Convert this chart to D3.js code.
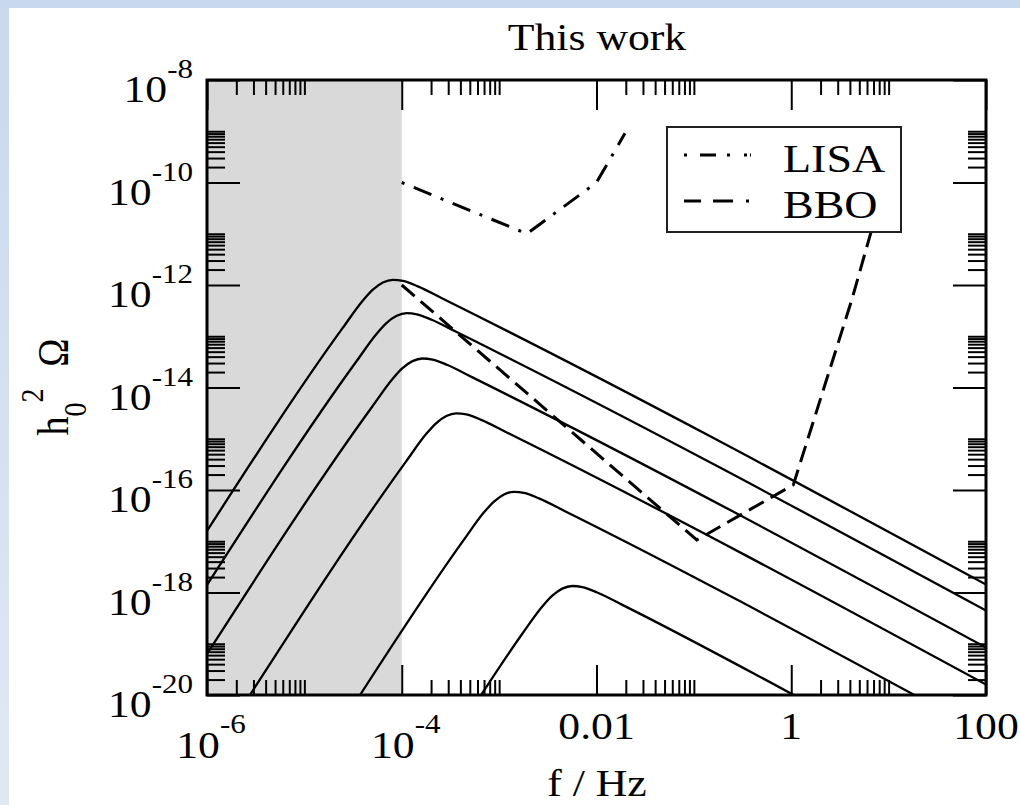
<!DOCTYPE html>
<html>
<head>
<meta charset="utf-8">
<script src="https://cdn.jsdelivr.net/npm/d3@7"></script>
<style>
html, body { margin: 0; padding: 0; background: #fff; }
svg { display: block; font-family: "Liberation Serif", "Times New Roman", Times, serif; }
</style>
</head>
<body>
<div id="chart"></div>
<script>
// spectra: [f in Hz, h0^2 Omega], denser round the peak
var curve1 = [[1e-6, 1.59e-17], [2.487e-5, 1.470e-13], [3.990e-5, 4.998e-13], [5.054e-5, 8.125e-13], [6.404e-5, 1.118e-12],
    [8.113e-5, 1.258e-12], [1.027e-4, 1.199e-12], [1.465e-4, 9.385e-13], [2.646e-4, 5.386e-13], [100, 1.43e-18]];
var curve2 = [[1e-6, 1.404e-18], [3.445e-5, 3.291e-14], [5.528e-5, 1.119e-13], [7.003e-5, 1.820e-13], [8.874e-5, 2.502e-13],
    [1.124e-4, 2.818e-13], [1.424e-4, 2.685e-13], [2.030e-4, 2.101e-13], [3.666e-4, 1.206e-13], [100, 4.442e-19]];
var curve3 = [[1e-6, 6.324e-20], [5.007e-5, 4.299e-15], [8.035e-5, 1.463e-14], [1.018e-4, 2.377e-14], [1.289e-4, 3.270e-14],
    [1.633e-4, 3.681e-14], [2.069e-4, 3.509e-14], [2.950e-4, 2.746e-14], [5.327e-4, 1.576e-14], [100, 8.433e-20]];
var curve4 = [[2.763e-6, 1e-20], [1.114e-4, 3.665e-16], [1.787e-4, 1.247e-15], [2.264e-4, 2.027e-15], [2.868e-4, 2.788e-15],
    [3.633e-4, 3.139e-15], [4.601e-4, 2.991e-15], [6.561e-4, 2.341e-15], [1.185e-3, 1.344e-15], [100, 1.599e-20]];
var curve5 = [[3.727e-5, 1e-20], [4.358e-4, 1.078e-17], [6.993e-4, 3.665e-17], [8.858e-4, 5.959e-17], [1.122e-3, 8.196e-17],
    [1.422e-3, 9.226e-17], [1.801e-3, 8.793e-17], [2.567e-3, 6.880e-17], [4.638e-3, 3.950e-17], [18.39, 1e-20]];
var curve6 = [[6.531e-4, 1e-20], [1.730e-3, 1.565e-19], [2.776e-3, 5.322e-19], [3.516e-3, 8.652e-19], [4.455e-3, 1.190e-18],
    [5.643e-3, 1.340e-18], [7.149e-3, 1.277e-18], [1.019e-2, 9.993e-19], [1.841e-2, 5.737e-19], [1.060, 1e-20]];
var spectra = [curve1, curve2, curve3, curve4, curve5, curve6];

// detector sensitivity curves
var lisa = [[1e-4, 1e-10], [1.93e-3, 1e-11], [1e-2, 1e-10], [1.96e-2, 9.1e-10]];
var bbo = [[1e-4, 1e-12], [0.107, 1.06e-17], [1.05, 1.26e-16], [4.18, 5.1e-13], [6.18, 7.0e-12], [9.4, 1.1e-10]];
var legendNames = ["LISA", "BBO"];

var shade = [1e-6, 1e-4];

var xMajor = [1e-6, 1e-4, 1e-2, 1, 100];
var xLabels = ["10^-6", "10^-4", "0.01", "1", "100"];
var yMajor = [1e-20, 1e-18, 1e-16, 1e-14, 1e-12, 1e-10, 1e-8];
var yLabels = ["10^-20", "10^-18", "10^-16", "10^-14", "10^-12", "10^-10", "10^-8"];

var width = 1020, height = 805;
var plot = {left: 207, right: 986, top: 80, bottom: 695};
var sx = 1.15; // the original picture is stretched sideways

var xScale = d3.scaleLog().domain([1e-6, 1e2]).range([plot.left, plot.right]);
var yScale = d3.scaleLog().domain([1e-20, 1e-8]).range([plot.bottom, plot.top]);

// minor ticks sit at 2..10 x each labelled tick
function minors(majors) {
    var out = [];
    majors.slice(0, -1).forEach(function (m) {
        for (var k = 2; k <= 10; k++) out.push(m * k);
    });
    return out;
}

var svg = d3.select("#chart").append("svg")
    .attr("width", width)
    .attr("height", height);

var defs = svg.append("defs");
var grad = defs.append("linearGradient").attr("id", "bg")
    .attr("x1", 0).attr("y1", 0).attr("x2", 0).attr("y2", 1);
grad.append("stop").attr("offset", "0%").attr("stop-color", "#c8d9ee");
grad.append("stop").attr("offset", "100%").attr("stop-color", "#e0e8f4");

defs.append("clipPath").attr("id", "clip").append("rect")
    .attr("x", plot.left).attr("y", plot.top)
    .attr("width", plot.right - plot.left)
    .attr("height", plot.bottom - plot.top);

svg.append("rect").attr("width", width).attr("height", height).attr("fill", "url(#bg)");
svg.append("rect").attr("x", 9).attr("y", 8)
    .attr("width", width - 9).attr("height", height - 8)
    .attr("fill", "#fff");

// grey band
svg.append("rect")
    .attr("x", xScale(shade[0]))
    .attr("y", plot.top)
    .attr("width", xScale(shade[1]) - xScale(shade[0]))
    .attr("height", plot.bottom - plot.top)
    .attr("fill", "#d9d9d9");

var line = d3.line()
    .x(function (d) { return xScale(d[0]); })
    .y(function (d) { return yScale(d[1]); });

var curves = svg.append("g").attr("clip-path", "url(#clip)");

curves.selectAll(".spectrum")
    .data(spectra)
    .enter().append("path")
    .attr("class", "spectrum")
    .attr("d", line.curve(d3.curveMonotoneX))
    .attr("fill", "none")
    .attr("stroke", "#000")
    .attr("stroke-width", 2.3);

line.curve(d3.curveLinear);

curves.append("path")
    .datum(bbo)
    .attr("d", line)
    .attr("fill", "none")
    .attr("stroke", "#000")
    .attr("stroke-width", 3)
    .attr("stroke-dasharray", "17,8");

curves.append("path")
    .datum(lisa)
    .attr("d", line)
    .attr("fill", "none")
    .attr("stroke", "#000")
    .attr("stroke-width", 3)
    .attr("stroke-dasharray", "3,10,19,10");

// ticks on all four sides, pointing inwards
function ticks(axis, values, size, transform) {
    svg.append("g")
        .attr("transform", transform)
        .call(axis.tickValues(values).tickSize(size).tickFormat(""))
        .call(function (g) { g.select(".domain").remove(); })
        .selectAll("line")
        .attr("stroke", "#000")
        .attr("stroke-width", 2);
}

ticks(d3.axisBottom(xScale), xMajor, -30, "translate(0," + plot.bottom + ")");
ticks(d3.axisBottom(xScale), minors(xMajor), -15, "translate(0," + plot.bottom + ")");
ticks(d3.axisTop(xScale), xMajor, -30, "translate(0," + plot.top + ")");
ticks(d3.axisTop(xScale), minors(xMajor), -15, "translate(0," + plot.top + ")");
ticks(d3.axisLeft(yScale), yMajor, -33, "translate(" + plot.left + ",0)");
ticks(d3.axisLeft(yScale), minors(yMajor), -18, "translate(" + plot.left + ",0)");
ticks(d3.axisRight(yScale), yMajor, -33, "translate(" + plot.right + ",0)");
ticks(d3.axisRight(yScale), minors(yMajor), -18, "translate(" + plot.right + ",0)");

svg.append("rect")
    .attr("x", plot.left).attr("y", plot.top)
    .attr("width", plot.right - plot.left)
    .attr("height", plot.bottom - plot.top)
    .attr("fill", "none")
    .attr("stroke", "#000")
    .attr("stroke-width", 3);

// text helpers
function stretchedText(x, y, size) {
    return svg.append("text")
        .attr("transform", "translate(" + x + "," + y + ") scale(" + sx + ",1)")
        .attr("font-size", size)
        .attr("fill", "#000");
}

function powerLabel(text, label, expSize, rise) {
    var parts = label.split("^");
    text.append("tspan").text(parts[0]);
    if (parts.length > 1) {
        text.append("tspan").attr("font-size", expSize).attr("dy", -rise).text(parts[1]);
    }
}

xMajor.forEach(function (v, i) {
    var lab = xLabels[i];
    var hasExp = lab.indexOf("^") >= 0;
    var t = stretchedText(xScale(v) + (hasExp ? 4 : 0), hasExp ? 758 : 739, 38)
        .attr("text-anchor", "middle");
    powerLabel(t, lab, 27, 25);
});

yMajor.forEach(function (v, i) {
    var t = stretchedText(193, yScale(v) + 22, 38).attr("text-anchor", "end");
    powerLabel(t, yLabels[i], 27, 24);
});

stretchedText(597, 50, 38).attr("text-anchor", "middle").text("This work");
stretchedText(597, 796, 38).attr("text-anchor", "middle").text("f / Hz");

// y title, rotated
var yt = svg.append("text")
    .attr("transform", "translate(68,387) scale(" + sx + ",1) rotate(-90)")
    .attr("font-size", 38)
    .attr("text-anchor", "middle")
    .attr("fill", "#000");
yt.append("tspan").text("h");
yt.append("tspan").attr("font-size", 28).attr("dy", 16).text("0");
yt.append("tspan").attr("font-size", 28).attr("dy", -38).text("2");
yt.append("tspan").attr("dy", 22).attr("dx", 22).text("\u03A9");

// legend
var legend = svg.append("g");
legend.append("rect")
    .attr("x", 667).attr("y", 127)
    .attr("width", 234).attr("height", 105)
    .attr("fill", "#fff")
    .attr("stroke", "#222")
    .attr("stroke-width", 2);

var legendDash = ["3,13,16,11,3,14,3", "17,12,20,13,3"];
legendNames.forEach(function (name, i) {
    var yy = 155 + i * 46;
    legend.append("line")
        .attr("x1", 684).attr("x2", 751)
        .attr("y1", yy).attr("y2", yy)
        .attr("stroke", "#000")
        .attr("stroke-width", 3)
        .attr("stroke-dasharray", legendDash[i]);
    stretchedText(783, yy + 17, 40).text(name);
});
</script>
</body>
</html>
